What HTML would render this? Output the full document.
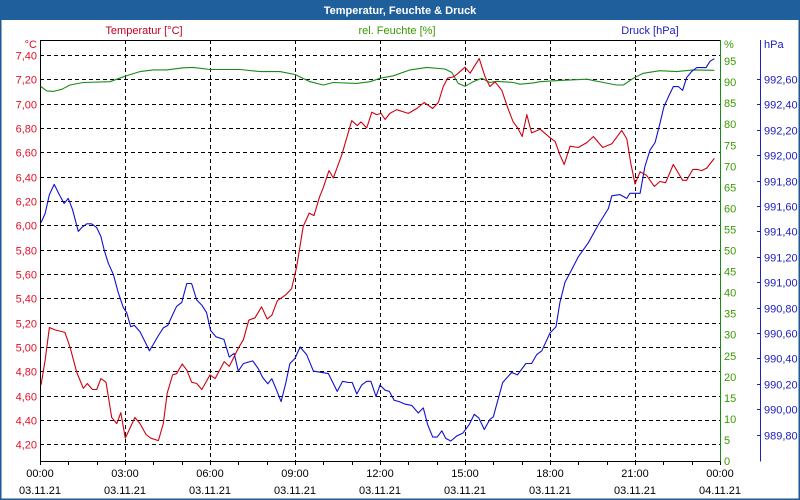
<!DOCTYPE html>
<html><head><meta charset="utf-8"><style>
html,body{margin:0;padding:0;background:#fff}
svg{display:block;font-family:"Liberation Sans","DejaVu Sans",sans-serif}
</style></head><body>
<svg id="c" width="800" height="500" viewBox="0 0 800 500">
<rect x="0" y="0" width="800" height="500" fill="#fff" stroke="#1e5a96" stroke-width="3"/>
<rect x="0" y="0" width="800" height="20" fill="#1f5f9b"/>
<text x="400" y="14" text-anchor="middle" fill="#fff" font-weight="bold" font-size="11">Temperatur, Feuchte &amp; Druck</text>
<text x="144" y="34" text-anchor="middle" fill="#c00020" font-size="11">Temperatur [°C]</text>
<text x="397" y="34" text-anchor="middle" fill="#3a9a00" font-size="11">rel. Feuchte [%]</text>
<text x="650" y="34" text-anchor="middle" fill="#2020c0" font-size="11">Druck [hPa]</text>
<g id="grid"></g><g id="axes"></g><g id="series"></g>
</svg>
<script>
const tempHours=[0.04,0.18,0.33,0.53,0.88,1.06,1.30,1.53,1.67,1.85,2.00,2.15,2.33,2.53,2.71,2.85,3.01,3.35,3.53,3.74,3.91,4.18,4.35,4.49,4.68,4.82,5.02,5.18,5.35,5.53,5.71,6.00,6.18,6.50,6.68,7.00,7.18,7.37,7.59,7.82,8.02,8.18,8.38,8.68,8.88,9.06,9.29,9.50,9.67,9.86,10.00,10.20,10.35,10.65,11.00,11.20,11.33,11.53,11.71,11.88,12.04,12.18,12.35,12.59,13.00,13.30,13.56,13.86,14.06,14.23,14.39,14.59,14.76,15.00,15.18,15.50,15.71,15.88,16.06,16.30,16.53,16.70,16.86,17.02,17.18,17.35,17.65,18.00,18.18,18.35,18.50,18.71,19.00,19.30,19.53,19.86,20.18,20.53,20.71,20.85,21.00,21.18,21.41,21.68,21.88,22.08,22.35,22.68,22.82,23.04,23.20,23.35,23.53,23.80];
const tempValues=[4.69,4.89,5.16,5.14,5.12,5.00,4.79,4.66,4.70,4.65,4.65,4.74,4.71,4.42,4.37,4.46,4.25,4.42,4.37,4.28,4.25,4.23,4.37,4.62,4.77,4.78,4.86,4.81,4.71,4.70,4.65,4.77,4.74,4.88,4.84,4.99,5.06,5.22,5.24,5.33,5.23,5.26,5.38,5.43,5.48,5.66,5.99,6.10,6.08,6.23,6.31,6.45,6.39,6.58,6.86,6.82,6.85,6.80,6.93,6.91,6.92,6.87,6.92,6.95,6.92,6.96,7.01,6.96,7.01,7.14,7.21,7.22,7.25,7.30,7.25,7.37,7.22,7.14,7.18,7.11,6.95,6.85,6.80,6.73,6.91,6.76,6.79,6.72,6.69,6.58,6.50,6.65,6.64,6.68,6.73,6.64,6.67,6.78,6.71,6.51,6.34,6.44,6.41,6.32,6.36,6.35,6.50,6.37,6.37,6.46,6.46,6.45,6.47,6.55];
const humHours=[0.02,0.24,0.47,0.77,1.06,1.53,2.47,3.00,3.53,3.99,4.47,5.05,5.40,6.00,7.06,7.76,8.47,9.00,9.53,10.00,10.35,11.18,11.65,12.00,12.47,13.06,13.65,14.29,14.53,14.76,15.00,15.29,15.59,15.88,16.12,16.71,16.94,17.41,17.65,18.35,19.30,19.88,20.35,20.59,20.94,21.29,21.88,22.47,23.05,23.80];
const humValues=[89.0,87.9,87.8,88.3,89.3,89.9,90.1,91.4,92.5,92.9,92.9,93.4,93.5,93.0,93.0,92.5,92.5,91.8,90.1,89.3,89.9,89.7,90.1,90.9,91.5,92.9,93.5,93.1,92.3,89.7,89.0,90.1,90.9,89.9,90.2,89.9,89.5,89.8,90.1,90.4,90.7,89.9,89.3,89.3,90.9,92.1,92.7,92.5,92.9,92.8];
const presHours=[0.04,0.18,0.33,0.50,0.68,0.85,1.00,1.15,1.35,1.47,1.65,1.82,2.00,2.15,2.27,2.41,2.59,2.76,2.94,3.06,3.20,3.33,3.53,3.71,3.86,4.00,4.18,4.35,4.51,4.65,4.82,5.00,5.18,5.35,5.53,5.71,5.88,6.02,6.21,6.49,6.68,6.85,7.00,7.18,7.51,7.70,7.86,8.04,8.18,8.35,8.51,8.67,8.82,9.00,9.18,9.41,9.65,9.94,10.18,10.49,10.68,10.88,11.02,11.18,11.35,11.53,11.68,11.86,12.00,12.18,12.33,12.50,12.68,12.88,13.12,13.35,13.53,13.68,13.86,14.02,14.18,14.32,14.50,14.71,14.92,15.15,15.33,15.49,15.68,15.88,16.00,16.33,16.65,16.85,17.15,17.35,17.53,17.71,18.00,18.21,18.35,18.53,18.77,19.00,19.35,19.70,20.06,20.18,20.47,20.71,20.82,21.18,21.35,21.53,21.71,21.88,22.02,22.18,22.35,22.53,22.68,22.82,23.00,23.18,23.35,23.51,23.65,23.80];
const presValues=[991.47,991.54,991.69,991.77,991.69,991.62,991.66,991.57,991.40,991.43,991.46,991.46,991.43,991.36,991.25,991.15,991.06,990.92,990.80,990.76,990.65,990.66,990.61,990.53,990.46,990.51,990.58,990.64,990.66,990.73,990.81,990.84,990.99,990.99,990.86,990.82,990.76,990.62,990.57,990.55,990.41,990.44,990.30,990.36,990.38,990.32,990.25,990.20,990.24,990.15,990.06,990.20,990.36,990.40,990.49,990.43,990.30,990.29,990.28,990.14,990.22,990.21,990.21,990.12,990.19,990.22,990.22,990.10,990.19,990.15,990.14,990.07,990.06,990.04,990.03,989.97,990.01,989.88,989.78,989.78,989.83,989.77,989.75,989.79,989.81,989.88,989.96,989.93,989.84,989.92,989.94,990.21,990.29,990.27,990.36,990.36,990.43,990.46,990.60,990.65,990.84,991.00,991.10,991.20,991.31,991.45,991.58,991.68,991.69,991.66,991.70,991.70,991.91,992.04,992.10,992.25,992.38,992.46,992.54,992.54,992.51,992.61,992.66,992.69,992.69,992.69,992.74,992.76];
const tempTicks=["7,40","7,20","7,00","6,80","6,60","6,40","6,20","6,00","5,80","5,60","5,40","5,20","5,00","4,80","4,60","4,40","4,20"];
const humTicks=[95,90,85,80,75,70,65,60,55,50,45,40,35,30,25,20,15,10,5,0];
const presTicks=["992,60","992,40","992,20","992,00","991,80","991,60","991,40","991,20","991,00","990,80","990,60","990,40","990,20","990,00","989,80"];
const timeLabels=["00:00","03:00","06:00","09:00","12:00","15:00","18:00","21:00","00:00"];
const dateLabels=["03.11.21","03.11.21","03.11.21","03.11.21","03.11.21","03.11.21","03.11.21","03.11.21","04.11.21"];

const L=40,R=720,T=40,B=461;
const xS=h=>L+h*(R-L)/24;
const yT=v=>55+(7.4-v)/0.2*24.33;
const yH=v=>461-v*4.21;
const yP=v=>79+(992.6-v)/0.2*25.4;
const NS="http://www.w3.org/2000/svg";
function mk(tag,attrs,parent,txt){const e=document.createElementNS(NS,tag);for(const k in attrs)e.setAttribute(k,attrs[k]);if(txt!==undefined)e.textContent=txt;parent.appendChild(e);return e;}
const grid=document.getElementById('grid'),axes=document.getElementById('axes'),ser=document.getElementById('series');

tempTicks.forEach(t=>{const v=parseFloat(t.replace(',','.'));const y=Math.round(yT(v))+0.5;
 const g=mk('line',{x1:L,x2:R,y1:y,y2:y,stroke:'#000','stroke-dasharray':'4,3','stroke-width':1},grid);
 
 const tx=mk('text',{x:37,y:y+4,'text-anchor':'end',fill:'#e0102a','font-size':11},axes,t);
 
});
for(let h=3;h<24;h+=3){const x=Math.round(xS(h))+0.5;
 const g=mk('line',{x1:x,x2:x,y1:T,y2:B,stroke:'#000','stroke-dasharray':'4,3'},grid);
 }
for(let h=0;h<=24;h++){const x=Math.round(xS(h))+0.5;
 const t=mk('line',{x1:x,x2:x,y1:B,y2:B+4,stroke:'#000'},axes);
 }
timeLabels.forEach((s,i)=>{const x=xS(i*3);
 const a=mk('text',{x:x,y:477,'text-anchor':'middle','font-size':11,fill:'#000'},axes,s);
 
 const b=mk('text',{x:x,y:494,'text-anchor':'middle','font-size':11,fill:'#000'},axes,dateLabels[i]);
 });
humTicks.forEach(v=>{const y=yH(v);
 const tx=mk('text',{x:724,y:y+4,fill:'#3a9a00','font-size':11},axes,String(v));
 });
presTicks.forEach(t=>{const v=parseFloat(t.replace(',','.'));const y=Math.round(yP(v))+0.5;
 const tk=mk('line',{x1:757,x2:761,y1:y,y2:y,stroke:'#2020c0'},axes);
 
 const tx=mk('text',{x:764,y:y+4,fill:'#2020c0','font-size':11},axes,t);
 });
[[L+0.5,T,L+0.5,B+0.5,'#000','left-axis'],[L,T+0.5,R,T+0.5,'#000','top-border'],[L,B+0.5,R,B+0.5,'#000','x-axis'],[R+0.5,T,R+0.5,B+0.5,'#1a8a1a','humidity-axis'],[760.5,T,760.5,B+0.5,'#2020c0','pressure-axis']].forEach(a=>{
 const l=mk('line',{x1:a[0],y1:a[1],x2:a[2],y2:a[3],stroke:a[4]},axes);
 });
const u1=mk('text',{x:37,y:48,'text-anchor':'end',fill:'#e0102a','font-size':11},axes,'°C');

const u2=mk('text',{x:724,y:48,fill:'#3a9a00','font-size':11},axes,'%');

const u3=mk('text',{x:764,y:48,fill:'#2020c0','font-size':11},axes,'hPa');


function line(hs,vs,yf,color,name){const d=hs.map((h,i)=>(i?'L':'M')+xS(h).toFixed(1)+','+yf(vs[i]).toFixed(1)).join('');
 const p=mk('path',{d:d,fill:'none',stroke:color,'stroke-width':1.1,'stroke-linejoin':'round'},ser);
 }
line(humHours,humValues,yH,'#1a8a1a','humidity-line');
line(presHours,presValues,yP,'#1010d0','pressure-line');
line(tempHours,tempValues,yT,'#d00010','temperature-line');
</script>
</body></html>
